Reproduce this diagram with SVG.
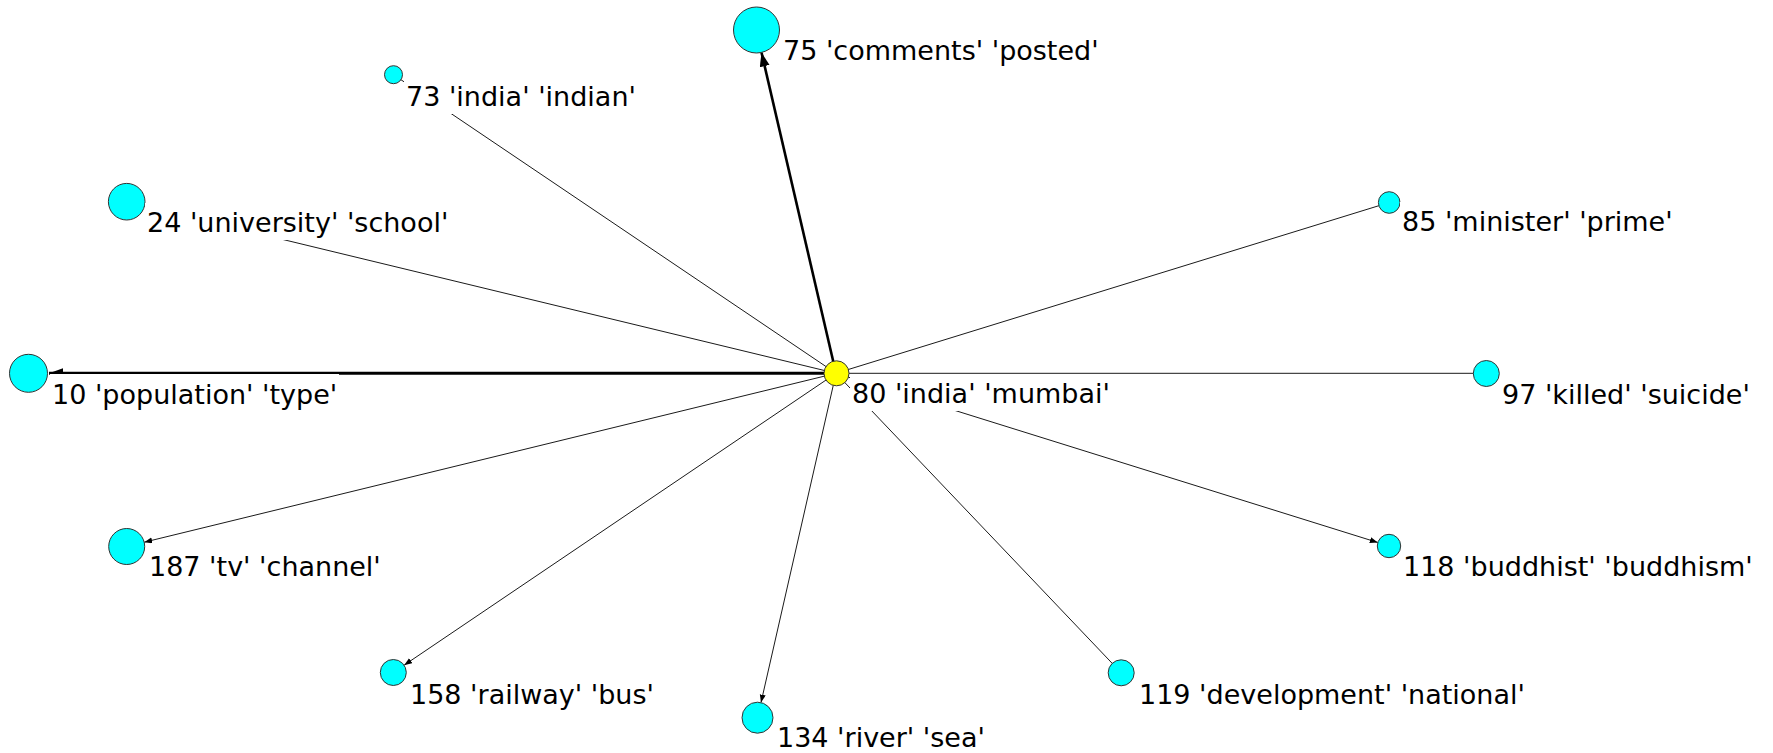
<svg xmlns="http://www.w3.org/2000/svg" width="1773" height="753" viewBox="0 0 1773 753">
<defs>
<style>
.edge{stroke:#1a1a1a;stroke-width:1;fill:none}
.thick{stroke:#000;stroke-width:3;fill:none}
.node{fill:#00FFFF;stroke:#333;stroke-width:1}
.hub{fill:#FFFF00;stroke:#333;stroke-width:1}
.lbg{fill:#fff;stroke:none}
.lbl{font-family:"DejaVu Sans",Verdana,sans-serif;font-size:27px;fill:#000}
</style>
<marker id="arrBig" markerUnits="userSpaceOnUse" markerWidth="16" markerHeight="12" refX="14" refY="5" orient="auto">
<path d="M0,0 L14,5 L0,10 z" fill="#000"/>
</marker>
<marker id="arrSmall" markerUnits="userSpaceOnUse" markerWidth="10" markerHeight="8" refX="8" refY="3" orient="auto">
<path d="M0,0 L8,3 L0,6 z" fill="#000"/>
</marker>
</defs>
<rect width="1773" height="753" fill="#fff"/>
<g id="connectors">
<line class="thick" style="stroke-width:2.6" x1="836" y1="373.3" x2="761.5" y2="52.5" marker-end="url(#arrBig)"/>
<line class="thick" x1="836" y1="373.3" x2="49" y2="373.3" marker-end="url(#arrBig)"/>
<line class="edge" x1="836" y1="373.3" x2="393.5" y2="74.7"/>
<line class="edge" x1="836" y1="373.3" x2="126.7" y2="201.7"/>
<line class="edge" x1="836" y1="373.3" x2="1389.2" y2="202.5"/>
<line class="edge" x1="836" y1="373.3" x2="1486.3" y2="373.3"/>
<line class="edge" x1="836" y1="373.3" x2="144.2" y2="542.2" marker-end="url(#arrSmall)"/>
<line class="edge" x1="836" y1="373.3" x2="404.1" y2="665.2" marker-end="url(#arrSmall)"/>
<line class="edge" x1="836" y1="373.3" x2="761" y2="702.6" marker-end="url(#arrSmall)"/>
<line class="edge" x1="836" y1="373.3" x2="1377.8" y2="542.5" marker-end="url(#arrSmall)"/>
<line class="edge" x1="836" y1="373.3" x2="1121.2" y2="672.8"/>
</g>
<g id="n75"><circle class="node" cx="756.5" cy="30" r="23"/><rect class="lbg" x="781" y="31" width="320" height="37"/><text class="lbl" x="783" y="60">75 'comments' 'posted'</text></g>
<g id="n73"><circle class="node" cx="393.5" cy="74.7" r="9"/><rect class="lbg" x="404" y="77" width="234" height="37"/><text class="lbl" x="406" y="106">73 'india' 'indian'</text></g>
<g id="n24"><circle class="node" cx="126.7" cy="201.7" r="18.3"/><rect class="lbg" x="145" y="203" width="305" height="37"/><text class="lbl" x="147" y="232">24 'university' 'school'</text></g>
<g id="n85"><circle class="node" cx="1389.2" cy="202.5" r="10.8"/><rect class="lbg" x="1400" y="202" width="275" height="37"/><text class="lbl" x="1402" y="231">85 'minister' 'prime'</text></g>
<g id="n10"><circle class="node" cx="28.5" cy="373.3" r="19"/><rect class="lbg" x="50" y="374" width="289" height="37"/><text class="lbl" x="52" y="404">10 'population' 'type'</text></g>
<g id="n80"><circle class="hub" cx="836.5" cy="373.3" r="12.5"/><rect class="lbg" x="850" y="374" width="262" height="37"/><text class="lbl" x="852" y="403">80 'india' 'mumbai'</text></g>
<g id="n97"><circle class="node" cx="1486.3" cy="373.5" r="13"/><rect class="lbg" x="1500" y="375" width="252" height="37"/><text class="lbl" x="1502" y="404">97 'killed' 'suicide'</text></g>
<g id="n187"><circle class="node" cx="126.7" cy="546.5" r="18"/><rect class="lbg" x="147" y="547" width="236" height="37"/><text class="lbl" x="149" y="576">187 'tv' 'channel'</text></g>
<g id="n118"><circle class="node" cx="1389" cy="546" r="11.7"/><rect class="lbg" x="1401" y="547" width="354" height="37"/><text class="lbl" x="1403" y="576">118 'buddhist' 'buddhism'</text></g>
<g id="n158"><circle class="node" cx="393.3" cy="672.5" r="13"/><rect class="lbg" x="408" y="675" width="255" height="37"/><text class="lbl" x="410" y="704">158 'railway' 'bus'</text></g>
<g id="n119"><circle class="node" cx="1121.2" cy="672.8" r="13"/><rect class="lbg" x="1137" y="675" width="390" height="37"/><text class="lbl" x="1139" y="704">119 'development' 'national'</text></g>
<g id="n134"><circle class="node" cx="757.5" cy="717.7" r="15.5"/><rect class="lbg" x="775" y="718" width="219" height="37"/><text class="lbl" x="777" y="747">134 'river' 'sea'</text></g>
</svg>
